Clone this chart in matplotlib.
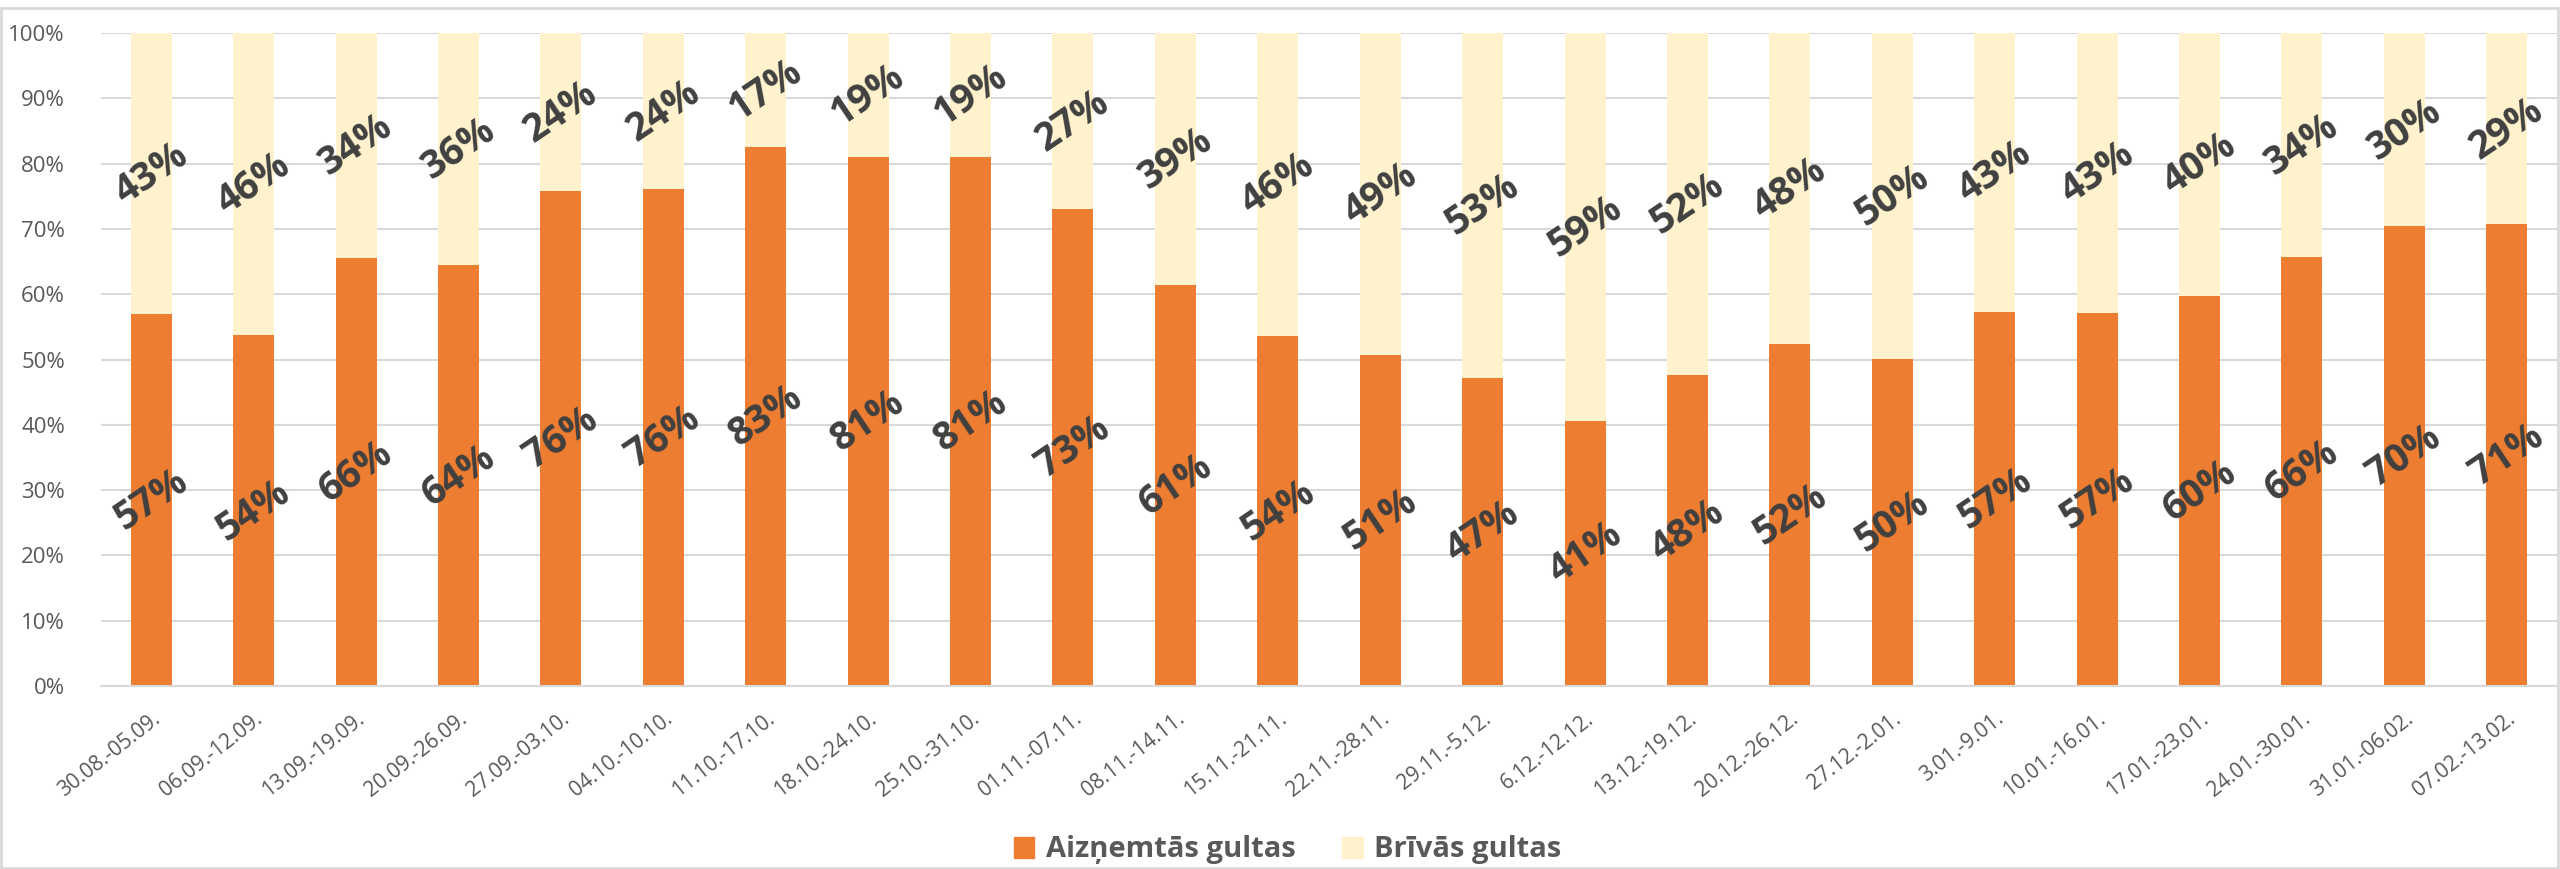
import numpy as np
import matplotlib.pyplot as plt
from matplotlib.patches import Rectangle, Patch

# Weekly periods
weeks = ['30.08.-05.09.', '06.09.-12.09.', '13.09.-19.09.', '20.09.-26.09.',
         '27.09.-03.10.', '04.10.-10.10.', '11.10.-17.10.', '18.10.-24.10.',
         '25.10.-31.10.', '01.11.-07.11.', '08.11.-14.11.', '15.11.-21.11.',
         '22.11.-28.11.', '29.11.-5.12.', '6.12.-12.12.', '13.12.-19.12.',
         '20.12.-26.12.', '27.12.-2.01.', '3.01.-9.01.', '10.01.-16.01.',
         '17.01.-23.01.', '24.01.-30.01.', '31.01.-06.02.', '07.02.-13.02.']

# Share of occupied beds (%)
occupied = np.array([56.9, 53.7, 65.6, 64.4, 75.8, 76.1, 82.6, 81.0, 81.0, 73.1,
                     61.4, 53.6, 50.7, 47.2, 40.6, 47.6, 52.3, 50.1, 57.3, 57.1,
                     59.7, 65.7, 70.4, 70.7])
# Share of free beds (%)
free = np.array([43.1, 46.3, 34.4, 35.6, 24.2, 23.9, 17.4, 19.0, 19.0, 26.9,
                 38.6, 46.4, 49.3, 52.8, 59.4, 52.4, 47.7, 49.9, 42.7, 42.9,
                 40.3, 34.3, 29.6, 29.3])

series_names = ['Aizņemtās gultas', 'Brīvās gultas']
c_occ = '#ED7D31'
c_free = '#FFF2CC'

plt.rcParams['font.family'] = ['Open Sans', 'DejaVu Sans']

W, H = 2560, 869
fig = plt.figure(figsize=(W / 100, H / 100), dpi=100)
ax = fig.add_axes([101 / W, 1 - 686 / H, (2557 - 101) / W, (686 - 33) / H])

x = np.arange(len(weeks))
ax.bar(x, occupied, width=0.4, color=c_occ, zorder=2)
ax.bar(x, free, width=0.4, bottom=occupied, color=c_free, zorder=2)

lbl = dict(rotation=34, rotation_mode='anchor', ha='center', va='center',
           fontsize=28, fontweight='bold', color='#404040', zorder=3)
for xi, o, f in zip(x, occupied, free):
    ax.text(xi, o / 2, f'{o:.0f}%', **lbl)
    ax.text(xi, o + f / 2, f'{f:.0f}%', **lbl)

ax.set_xlim(-0.49, len(weeks) - 0.51)
ax.set_ylim(0, 100)
ax.set_yticks(np.arange(0, 101, 10))
ax.set_yticklabels([f'{v}%' for v in range(0, 101, 10)])
ax.set_xticks(x)
ax.set_xticklabels(weeks, rotation=38, ha='right', rotation_mode='anchor')
ax.tick_params(axis='y', length=0, pad=26, labelsize=16, labelcolor='#595959')
ax.tick_params(axis='x', length=0, pad=16, labelsize=15, labelcolor='#595959')
ax.grid(axis='y', color='#D9D9D9', linewidth=1.5, zorder=0)
for s in ['top', 'right', 'left']:
    ax.spines[s].set_visible(False)
ax.spines['bottom'].set_color('#D9D9D9')
ax.spines['bottom'].set_linewidth(1.5)

handles = [Patch(color=c_occ), Patch(color=c_free)]
fig.legend(handles, series_names, loc='center', bbox_to_anchor=(0.503, 1 - 850 / H),
           ncol=2, frameon=False, prop={'size': 21, 'weight': 'bold'},
           labelcolor='#595959', handlelength=0.7, handleheight=0.7,
           handletextpad=0.4, columnspacing=1.6)

# chart border
fig.patches.append(Rectangle((1 / W, 1 / H), (W - 3) / W, 1 - 9 / H,
                             transform=fig.transFigure, fill=False,
                             edgecolor='#D9D9D9', linewidth=2))

fig.savefig('out.png', dpi=100)
